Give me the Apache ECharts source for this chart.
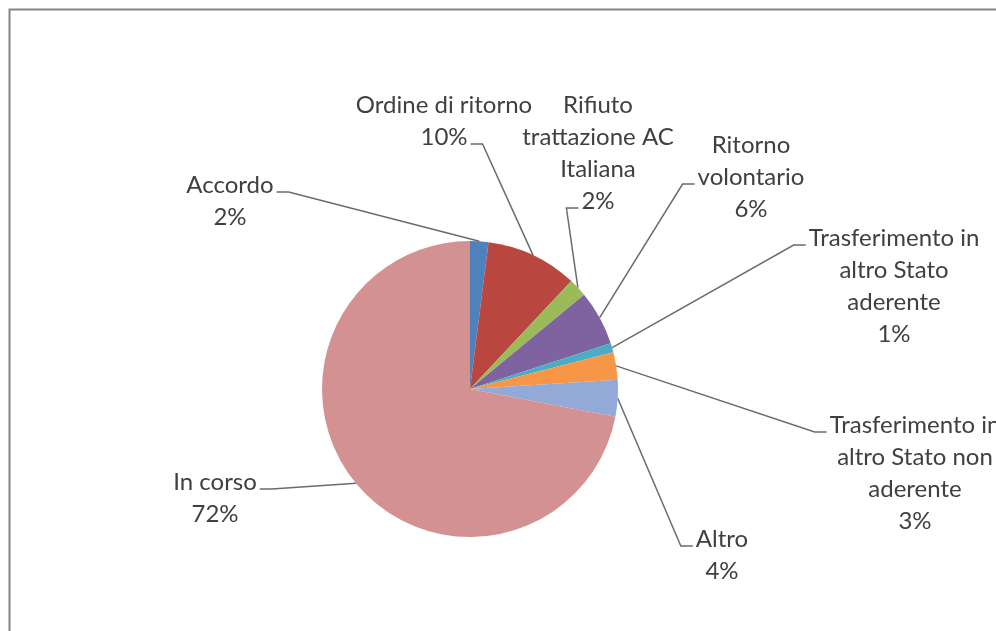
<!DOCTYPE html>
<html>
<head>
<meta charset="utf-8">
<script src="https://cdn.jsdelivr.net/npm/echarts@6/dist/echarts.min.js"></script>
<style>
  html, body { margin: 0; padding: 0; background: #ffffff; }
  #chart { width: 996px; height: 631px; }
</style>
</head>
<body>
<div id="chart"></div>
<script>
// Esito dei casi: quota per tipo di esito
const categories = [
  'Accordo',
  'Ordine di ritorno',
  'Rifiuto\ntrattazione AC\nItaliana',
  'Ritorno\nvolontario',
  'Trasferimento in\naltro Stato\naderente',
  'Trasferimento in\naltro Stato non\naderente',
  'Altro',
  'In corso'
];
const shares = [2, 10, 2, 6, 1, 3, 4, 72];
const sliceColors = ['#4F81BD', '#B9473F', '#9BBB59', '#7F63A1', '#4BACC6', '#F79646', '#93A9D7', '#D39291'];

// Where each callout sits: text centre x, top y, the text line the leader
// line hooks onto, and the side of that line it leaves from.
const calloutSpots = [
  { cx: 230, top: 169, line: 0, side: 'right' },
  { cx: 444, top: 89,  line: 1, side: 'right' },
  { cx: 598, top: 89,  line: 3, side: 'left'  },
  { cx: 751, top: 129, line: 1, side: 'left'  },
  { cx: 894, top: 222, line: 0, side: 'left'  },
  { cx: 915, top: 409, line: 0, side: 'left'  },
  { cx: 722, top: 523, line: 0, side: 'left'  },
  { cx: 215, top: 466, line: 0, side: 'right' }
];

const FONT_SIZE = 24;
const LINE_H = 32;
const FONT_FAMILY = 'Lato, "Open Sans", sans-serif';

const measureCtx = document.createElement('canvas').getContext('2d');
measureCtx.font = FONT_SIZE + 'px ' + FONT_FAMILY;
function lineWidth(s) { return measureCtx.measureText(s).width; }

function labelLines(i) {
  return (categories[i] + '\n' + shares[i] + '%').split('\n');
}

const chart = echarts.init(document.getElementById('chart'), null, { renderer: 'canvas' });

chart.setOption({
  backgroundColor: '#ffffff',
  animation: false,
  graphic: [{
    type: 'rect',
    shape: { x: 9.5, y: 9.5, width: 1100, height: 800 },
    style: { fill: 'none', stroke: '#858585', lineWidth: 2 },
    silent: true
  }],
  series: [{
    type: 'pie',
    center: [470, 389],
    radius: 148,
    startAngle: 90,
    clockwise: true,
    percentPrecision: 0,
    avoidLabelOverlap: false,
    data: categories.map((name, i) => ({
      name: name,
      value: shares[i],
      itemStyle: { color: sliceColors[i] }
    })),
    itemStyle: { borderWidth: 0 },
    label: {
      show: true,
      position: 'outside',
      formatter: '{b}\n{d}%',
      fontFamily: FONT_FAMILY,
      fontSize: FONT_SIZE,
      lineHeight: LINE_H,
      color: '#404040',
      align: 'center'
    },
    labelLine: {
      show: true,
      length: 10,
      length2: 10,
      smooth: false,
      lineStyle: { color: '#6b6b6b', width: 1.5 }
    },
    labelLayout: function (params) {
      const i = params.dataIndex;
      const spot = calloutSpots[i];
      const lines = labelLines(i);
      const w = lineWidth(lines[spot.line]);
      const ay = spot.top + LINE_H * spot.line + LINE_H / 2 + 7;
      const dir = spot.side === 'right' ? 1 : -1;
      const ax = spot.cx + dir * (w / 2 + 3);
      const edge = params.labelLinePoints ? params.labelLinePoints[0] : [ax, ay];
      return {
        x: spot.cx,
        y: spot.top,
        align: 'center',
        verticalAlign: 'top',
        labelLinePoints: [edge, [ax + dir * 12, ay], [ax, ay]]
      };
    }
  }]
});
</script>
</body>
</html>
